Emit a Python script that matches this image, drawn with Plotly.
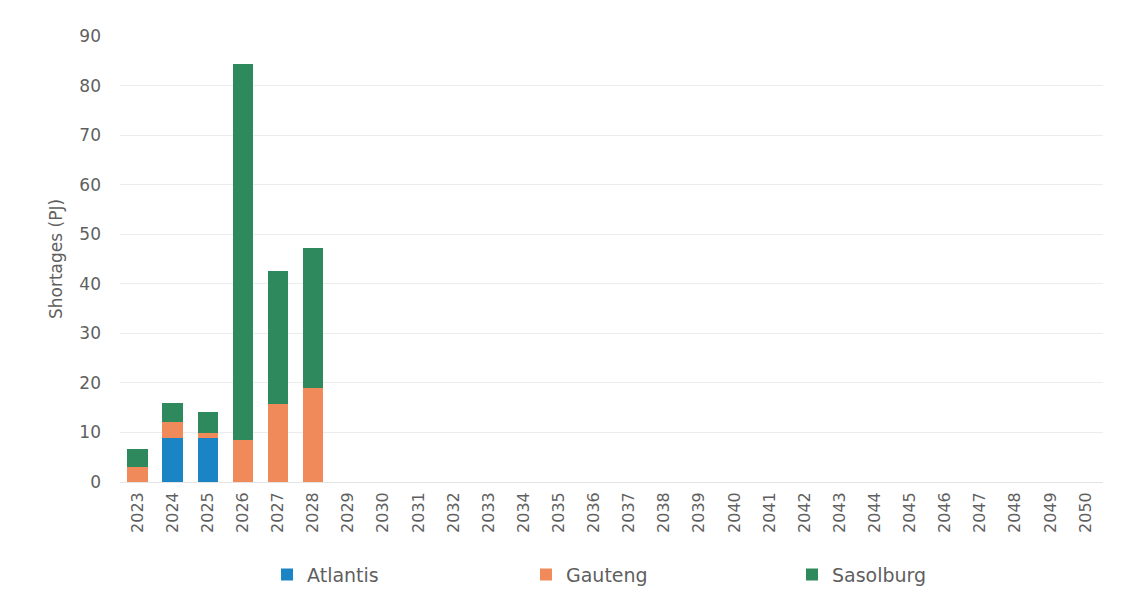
import plotly.graph_objects as go

years = [str(y) for y in range(2023, 2051)]
atlantis = [0, 8.9, 8.9, 0, 0, 0] + [0] * 22
gauteng = [3.0, 3.2, 1.0, 8.5, 15.8, 19.0] + [0] * 22
sasolburg = [3.7, 3.9, 4.2, 75.9, 26.8, 28.3] + [0] * 22

colors = {"Atlantis": "#1B84C4", "Gauteng": "#F08A5B", "Sasolburg": "#2E8A5C"}
font_family = "DejaVu Sans, sans-serif"
grey = "#5f5f5f"

series = [("Atlantis", atlantis, "legend"), ("Gauteng", gauteng, "legend2"),
          ("Sasolburg", sasolburg, "legend3")]

fig = go.Figure()
for name, vals, leg in series:
    fig.add_trace(go.Bar(x=years, y=vals, name=name, marker_color=colors[name],
                         marker_line_width=0, legend=leg, showlegend=True))

leg_common = dict(orientation="h", xref="container", yref="container",
                  y=0.05, yanchor="middle", xanchor="left",
                  font=dict(size=19, color=grey, family=font_family), itemwidth=30,
                  bgcolor="rgba(0,0,0,0)", visible=True)

fig.update_layout(
    showlegend=True,
    barmode="stack",
    bargap=0.42,
    width=1121, height=605,
    margin=dict(l=120, r=18, t=36, b=123, autoexpand=False),
    plot_bgcolor="white", paper_bgcolor="white",
    font=dict(family=font_family, color=grey, size=16),
    xaxis=dict(type="category", tickangle=-90, tickfont=dict(size=16, color=grey),
               showgrid=False, showline=False, ticks="", automargin=False,
               ticklabelstandoff=6),
    yaxis=dict(range=[0, 90], dtick=10, gridcolor="#ececec", gridwidth=1,
               zeroline=True, zerolinecolor="#e4e4e4", zerolinewidth=1,
               tickfont=dict(size=17, color=grey), ticks="", ticklabelstandoff=18,
               automargin=False,
               title=dict(text="Shortages (PJ)", font=dict(size=17, color=grey), standoff=12)),
    legend=dict(x=0.2382, **leg_common),
    legend2=dict(x=0.4692, **leg_common),
    legend3=dict(x=0.7065, **leg_common),
)

fig.write_html("out.html")
